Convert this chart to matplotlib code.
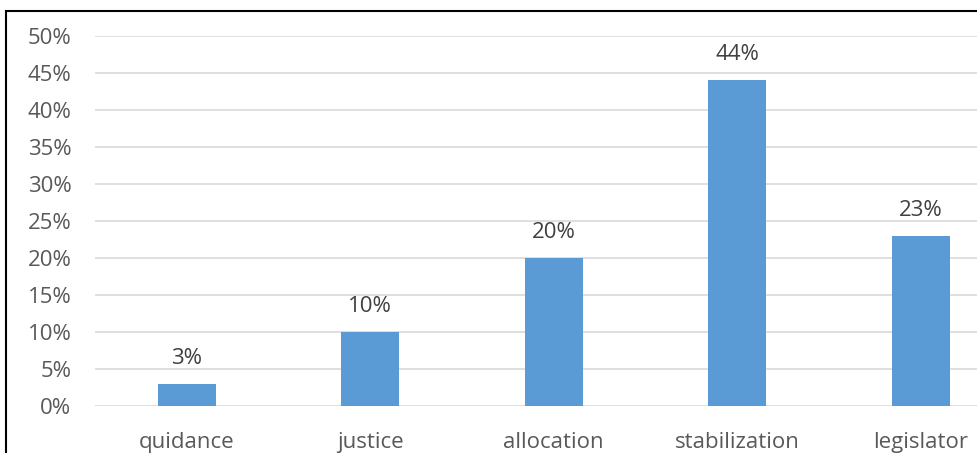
import matplotlib
matplotlib.use("Agg")
import matplotlib.pyplot as plt
from matplotlib.patches import Rectangle

categories = ["quidance", "justice", "allocation", "stabilization", "legislator"]
shares = [3, 10, 20, 44, 23]
y_ticks = [0, 5, 10, 15, 20, 25, 30, 35, 40, 45, 50]

W, H = 977, 453
fig = plt.figure(figsize=(W / 100, H / 100), dpi=100)
plt.rcParams["font.family"] = ["Open Sans", "DejaVu Sans"]

# plot area in pixels: left edge 95, 0% at y=406, 50% at y=36
left, right = 95, 977
top, bottom = 36, 406
ax = fig.add_axes([left / W, 1 - bottom / H, (right - left) / W, (bottom - top) / H])

x = list(range(len(categories)))
bar_color = "#5B9BD5"
ax.bar(x, shares, width=0.316, color=bar_color, zorder=3)

slot = 183.5
ax.set_xlim(-0.5, -0.5 + (right - left) / slot)
ax.set_ylim(0, 50)
ax.set_yticks(y_ticks)
ax.set_yticklabels([f"{v}%" for v in y_ticks])
ax.set_xticks(x)
ax.set_xticklabels(categories)

ax.grid(axis="y", color="#D9D9D9", linewidth=1.2, zorder=0)
ax.set_axisbelow(True)
for s in ax.spines.values():
    s.set_visible(False)
ax.tick_params(axis="both", length=0, labelsize=16, colors="#595959")
ax.tick_params(axis="y", pad=17)
ax.tick_params(axis="x", pad=19)

for xi, v in zip(x, shares):
    ax.annotate(f"{v}%", (xi, v), xytext=(0, 11), textcoords="offset points",
                ha="center", va="bottom", fontsize=16, color="#404040")

# outer frame of the chart, partly outside the canvas
fig.patches.append(Rectangle((6 / W, -0.1), 1.2, 1.1 - 11 / H,
                             transform=fig.transFigure, fill=False,
                             edgecolor="#000000", linewidth=1.5))

fig.savefig("out.png", dpi=100)
